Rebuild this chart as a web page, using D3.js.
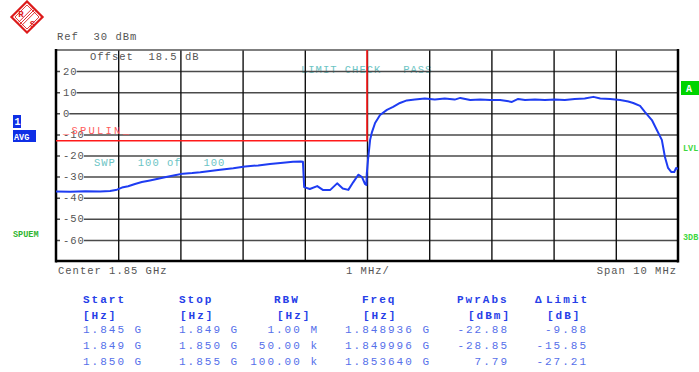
<!DOCTYPE html>
<html><head><meta charset="utf-8">
<script src="https://cdn.jsdelivr.net/npm/d3@7"></script>
<style>
html,body{margin:0;padding:0;background:#fff;}
svg{display:block;}
text{font-family:"Liberation Mono","DejaVu Sans Mono",monospace;}
</style></head>
<body>
<svg id="c" width="699" height="372"></svg>
<script>
// ---- data ----
const traceFreqGHz = [1.84500,1.84523,1.84547,1.84571,1.84587,1.84598,1.84606,1.84616,1.84627,1.84638,
 1.84651,1.84664,1.84677,1.84691,1.84704,1.84719,1.84732,1.84748,1.84764,1.84785,
 1.84804,1.84825,1.84844,1.84865,1.84881,1.848936,1.84897,1.84899,1.84908,1.84920,
 1.84929,1.84941,1.84952,1.84961,1.84970,1.84978,1.84986,1.84992,1.849968,1.849990,
 1.849996,1.850016,1.85005,1.85008,1.85013,1.85021,1.85032,1.85042,1.85053,1.85064,
 1.85077,1.85093,1.85109,1.85125,1.85141,1.85150,1.85166,1.85182,1.85198,1.85214,
 1.85225,1.85233,1.85243,1.85254,1.85270,1.85286,1.85302,1.85318,1.85334,1.85350,
 1.853640,1.85375,1.85391,1.85407,1.85420,1.85428,1.85439,1.85447,1.85458,1.85466,
 1.85474,1.85479,1.85484,1.85489,1.85494,1.85497,1.85500];
const traceDbm = [-37.1,-37.2,-37.0,-37.1,-36.8,-36.2,-35.2,-34.6,-33.5,-32.6,
 -31.8,-31.0,-30.2,-29.4,-28.6,-28.3,-27.9,-27.3,-26.7,-26.0,
 -25.2,-24.7,-24.0,-23.4,-23.0,-22.88,-23.0,-35.0,-35.9,-34.5,
 -36.3,-36.3,-33.2,-35.6,-36.3,-32.6,-29.1,-30.2,-33.5,-34.0,
 -28.85,-22.1,-12.6,-8.9,-4.6,-0.8,1.6,3.0,4.9,6.1,
 6.5,7.0,6.5,7.0,6.5,7.3,6.3,6.5,6.3,6.3,
 5.8,5.4,6.8,6.3,6.5,6.3,6.5,6.3,6.8,7.0,
 7.79,7.0,6.8,6.3,5.6,4.9,3.5,0.6,-3.2,-7.9,
 -12.6,-20.7,-25.9,-27.8,-27.8,-25.9,-26.4];
const limitFreqGHz = [1.845, 1.850, 1.850, 1.855];
const limitDbm = [-13, -13, 35, 35];
const yTickValues = [20, 10, 0, -10, -20, -30, -40, -50, -60];
const xGridValues = [1.846,1.847,1.848,1.849,1.850,1.851,1.852,1.853,1.854];

const colStart = ["1.845 G", "1.849 G", "1.850 G"];
const colStop  = ["1.849 G", "1.850 G", "1.855 G"];
const colRbw   = ["1.00 M", "50.00 k", "100.00 k"];
const colFreq  = ["1.848936 G", "1.849996 G", "1.853640 G"];
const colPwr   = ["-22.88", "-28.85", "7.79"];
const colLimit = ["-9.88", "-15.85", "-27.21"];

// ---- drawing ----
const svg = d3.select("#c");
const L = 56, R = 678, T = 50, B = 261;
const x = d3.scaleLinear().domain([1.845, 1.855]).range([L, R]);
const y = d3.scaleLinear().domain([-70, 30]).range([B, T]);
const gray = "#555";

svg.append("defs").append("clipPath").attr("id","pc")
  .append("rect").attr("x",L).attr("y",T).attr("width",R-L).attr("height",B-T);

// text overlays inside plot (drawn under grid)
function t(txt, px, py, opt={}) {
  return svg.append("text").attr("x",px).attr("y",py)
    .attr("font-size", opt.size||10.5)
    .attr("letter-spacing", opt.ls!==undefined?opt.ls:1.0)
    .attr("font-weight", opt.bold?"bold":"normal")
    .attr("fill", opt.fill||gray)
    .attr("text-anchor", opt.anchor||"start")
    .style("white-space","pre")
    .text(txt);
}
t("Offset  18.5 dB", 90, 60);
t("LIMIT CHECK   PASS", 301, 73, {fill:"#6cc4c4"});
t("SWP   100 of   100", 94, 166, {fill:"#6cc4c4"});

// horizontal grid via axis
const gy = svg.append("g").attr("transform",`translate(${L},0)`)
  .call(d3.axisRight(y).tickValues(yTickValues).tickSize(R-L).tickFormat(""));
gy.select(".domain").remove();
gy.selectAll("line").attr("stroke","#4a4a4a").attr("stroke-width",1.5);

// vertical grid via axis
const gx = svg.append("g").attr("transform",`translate(0,${T})`)
  .call(d3.axisBottom(x).tickValues(xGridValues).tickSize(B-T).tickFormat(""));
gx.select(".domain").remove();
gx.selectAll("line").attr("stroke","#111").attr("stroke-width",1.4);

// tick labels with white background
const tl = svg.append("g").selectAll("g").data(yTickValues).join("g")
  .attr("transform", d=>`translate(0,${y(d)})`);
tl.append("rect").attr("x",60).attr("y",-4)
  .attr("width", d=>String(d).length*7.3+2).attr("height",8).attr("fill","#fff");
tl.append("text").attr("x",63).attr("y",3.6).attr("font-size",10.5).attr("letter-spacing",1.0)
  .attr("fill",gray).text(d=>String(d));

// frame
svg.append("line").attr("x1",L).attr("x2",R).attr("y1",T).attr("y2",T).attr("stroke","#555").attr("stroke-width",1.5);
svg.append("line").attr("x1",L).attr("x2",L).attr("y1",T-1).attr("y2",B+1.5).attr("stroke","#000").attr("stroke-width",2.5);
svg.append("line").attr("x1",R).attr("x2",R).attr("y1",T-1).attr("y2",B+1.5).attr("stroke","#000").attr("stroke-width",2.5);
svg.append("line").attr("x1",L).attr("x2",R).attr("y1",B).attr("y2",B).attr("stroke","#000").attr("stroke-width",2.5);

// red label
t("_SPULIN_", 63, 134, {fill:"#ff5a5a", ls:2.2});

// limit line
const limitData = limitFreqGHz.map((f,i)=>[f, limitDbm[i]]);
svg.append("path").datum(limitData).attr("clip-path","url(#pc)")
  .attr("fill","none").attr("stroke","#ff1a1a").attr("stroke-width",1.6)
  .attr("d", d3.line().x(d=>x(d[0])).y(d=>y(d[1])));

// trace
const traceData = traceFreqGHz.map((f,i)=>[f, traceDbm[i]]);
svg.append("path").datum(traceData).attr("clip-path","url(#pc)")
  .attr("fill","none").attr("stroke","#1e3cf2").attr("stroke-width",2)
  .attr("stroke-linejoin","round")
  .attr("d", d3.line().x(d=>x(d[0])).y(d=>y(d[1])));

// header / footer texts
t("Ref  30 dBm", 57, 40);
t("Center 1.85 GHz", 58, 274);
t("1 MHz/", 346, 274);
t("Span 10 MHz", 677, 274, {anchor:"end"});

// left markers
svg.append("rect").attr("x",13).attr("y",115).attr("width",8).attr("height",13).attr("fill","#0f2fe6");
svg.append("text").attr("x",14.5).attr("y",125).attr("font-size",10).attr("font-weight","bold").attr("fill","#fff").text("1");
svg.append("rect").attr("x",13).attr("y",130).attr("width",23).attr("height",12).attr("fill","#0f2fe6");
svg.append("text").attr("x",14).attr("y",139.5).attr("font-size",8.5).attr("font-weight","bold").attr("fill","#fff").text("AVG");
svg.append("text").attr("x",13).attr("y",237).attr("font-size",8.5).attr("font-weight","bold").attr("fill","#2fb52f").text("SPUEM");

// right markers
svg.append("rect").attr("x",681).attr("y",81).attr("width",18).attr("height",14).attr("fill","#00d400");
svg.append("text").attr("x",686).attr("y",92).attr("font-size",10).attr("font-weight","bold").attr("fill","#fff").text("A");
svg.append("text").attr("x",683).attr("y",151).attr("font-size",8.5).attr("font-weight","bold").attr("fill","#3fd83f").text("LVL");
svg.append("text").attr("x",683).attr("y",240).attr("font-size",8.5).attr("font-weight","bold").attr("fill","#3fd83f").text("3DB");

// logo
const lg = svg.append("g").attr("transform","translate(27,17)");
lg.append("rect").attr("x",-11).attr("y",-11).attr("width",22).attr("height",22)
  .attr("transform","rotate(45)").attr("fill","#fff").attr("stroke","#dd1a1a").attr("stroke-width",2.2);
lg.append("rect").attr("x",-8.5).attr("y",-8.5).attr("width",17).attr("height",17)
  .attr("transform","rotate(45)").attr("fill","none").attr("stroke","#dd1a1a").attr("stroke-width",0.8);
[-1.6,0,1.6].forEach(o=>{
  lg.append("line").attr("x1",-7+o).attr("y1",7+o).attr("x2",7+o).attr("y2",-7+o)
    .attr("stroke","#dd1a1a").attr("stroke-width",0.9);
});
lg.append("text").attr("x",-6).attr("y",-0.5).attr("font-size",9).attr("font-weight","bold")
  .attr("font-family","Liberation Sans").attr("fill","#dd1a1a").attr("text-anchor","middle").text("R");
lg.append("text").attr("x",5.5).attr("y",9.5).attr("font-size",9).attr("font-weight","bold")
  .attr("font-family","Liberation Sans").attr("fill","#dd1a1a").attr("text-anchor","middle").text("S");

// table
const hdr = "#2640e8", val = "#5670ea";
const tb = {size:11, ls:2, fill:hdr, bold:true};
t("Start", 83, 303, tb); t("Stop", 179, 303, tb); t("RBW", 274, 303, tb);
t("Freq", 362, 303, tb); t("PwrAbs", 457, 303, tb);
t("\u0394", 535, 303, tb); t("Limit", 546, 303, tb);
t("[Hz]", 83, 319, tb); t("[Hz]", 180, 319, tb); t("[Hz]", 277, 319, tb);
t("[Hz]", 363, 319, tb); t("[dBm]", 468, 319, tb); t("[dB]", 547, 319, tb);
const rowY = [333, 349, 365];
const vo = {size:11, ls:2, fill:val};
const voE = {size:11, ls:2, fill:val, anchor:"end"};
rowY.forEach((ry,i)=>{
  t(colStart[i], 83, ry, vo);
  t(colStop[i], 179, ry, vo);
  t(colRbw[i], 319, ry, voE);
  t(colFreq[i], 345, ry, vo);
  t(colPwr[i], 509, ry, voE);
  t(colLimit[i], 588, ry, voE);
});
</script>
</body></html>
